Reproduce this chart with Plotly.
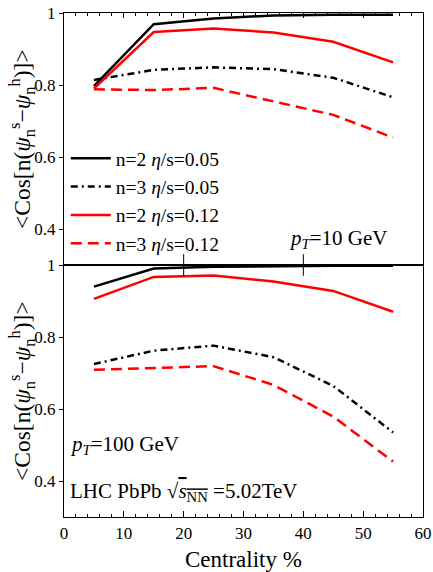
import plotly.graph_objects as go

centrality = [5, 15, 25, 35, 45, 55]

# top panel: pT = 10 GeV
top_n2_005 = [0.797, 0.969, 0.985, 0.993, 0.995, 0.995]
top_n3_005 = [0.814, 0.842, 0.849, 0.844, 0.820, 0.766]
top_n2_012 = [0.790, 0.947, 0.957, 0.946, 0.920, 0.863]
top_n3_012 = [0.788, 0.786, 0.792, 0.754, 0.717, 0.654]

# bottom panel: pT = 100 GeV
bot_n2_005 = [0.940, 0.990, 0.995, 0.997, 0.998, 0.998]
bot_n3_005 = [0.725, 0.762, 0.776, 0.744, 0.664, 0.535]
bot_n2_012 = [0.906, 0.967, 0.971, 0.954, 0.928, 0.870]
bot_n3_012 = [0.709, 0.714, 0.719, 0.667, 0.579, 0.454]

labels = ["n=2 <i>η</i>/s=0.05", "n=3 <i>η</i>/s=0.05",
          "n=2 <i>η</i>/s=0.12", "n=3 <i>η</i>/s=0.12"]
colors = ["black", "black", "#ff0000", "#ff0000"]
dashes = ["solid", "7px,4px,2px,4px", "solid", "11px,6px"]

FONT = "Liberation Serif"

fig = go.Figure()
top_series = [top_n2_005, top_n3_005, top_n2_012, top_n3_012]
bot_series = [bot_n2_005, bot_n3_005, bot_n2_012, bot_n3_012]

for i, ys in enumerate(top_series):
    fig.add_trace(go.Scatter(x=centrality, y=ys, mode="lines", name=labels[i],
                             line=dict(color=colors[i], width=2.5, dash=dashes[i]),
                             xaxis="x2", yaxis="y2", showlegend=True))
for i, ys in enumerate(bot_series):
    fig.add_trace(go.Scatter(x=centrality, y=ys, mode="lines", name=labels[i],
                             line=dict(color=colors[i], width=2.5, dash=dashes[i]),
                             xaxis="x", yaxis="y", showlegend=False))

yticks = [0.4, 0.6, 0.8, 1.0]
yticktext = ["0.4", "0.6", "0.8", "1"]
yr = [0.3, 1.0]

common_y = dict(range=yr, tickvals=yticks, ticktext=yticktext, ticks="outside",
                ticklen=4, tickwidth=1, tickcolor="black", showline=True,
                linecolor="black", linewidth=1.3, mirror=True, showgrid=False,
                zeroline=False, automargin=False,
                tickfont=dict(family=FONT, size=17, color="black"))
right_y = dict(range=yr, side="right", ticks="inside", dtick=0.1, tick0=0,
               ticklen=4, tickcolor="black", showticklabels=False, showgrid=False,
               zeroline=False, showline=False, automargin=False,
               minor=dict(dtick=0.02, ticks="inside", ticklen=2.5, tickcolor="black"))

fig.update_layout(
    width=433, height=572,
    margin=dict(l=64, r=10, t=13, b=55, autoexpand=False),
    paper_bgcolor="white", plot_bgcolor="white",
    font=dict(family=FONT, color="black"),
    xaxis=dict(domain=[0, 1], anchor="y", range=[0, 60], dtick=10, tick0=0,
               ticks="inside", ticklen=6, tickcolor="black", showline=True,
               linecolor="black", linewidth=1.3, mirror=True, showgrid=False,
               zeroline=False, automargin=False,
               tickfont=dict(family=FONT, size=17, color="black"),
               minor=dict(dtick=2, ticks="inside", ticklen=3, tickcolor="black")),
    xaxis2=dict(domain=[0, 1], anchor="y2", matches="x", side="top", range=[0, 60],
                dtick=10, tick0=0, ticks="inside", ticklen=5, tickcolor="black",
                showticklabels=False, showline=True, linecolor="black",
                linewidth=1.3, mirror=True, showgrid=False, zeroline=False,
                automargin=False,
                minor=dict(dtick=2, ticks="inside", ticklen=3, tickcolor="black")),
    yaxis=dict(domain=[0, 0.5], anchor="x", **common_y),
    yaxis2=dict(domain=[0.5, 1], anchor="x2", **common_y),
    yaxis3=dict(overlaying="y", anchor="x", **right_y),
    yaxis4=dict(overlaying="y2", anchor="x2", **right_y),
    legend=dict(x=0.005, y=0.75, xanchor="left", yanchor="top",
                bgcolor="rgba(0,0,0,0)", font=dict(family=FONT, size=19.5, color="black"),
                tracegroupgap=0, itemwidth=40),
    showlegend=True,
)

# long ticks crossing the panel boundary
for xv in [20, 40]:
    fig.add_shape(type="line", xref="x", yref="y", x0=xv, x1=xv, y0=0.97, y1=1.0,
                  line=dict(color="black", width=1))
    fig.add_shape(type="line", xref="x2", yref="y2", x0=xv, x1=xv, y0=0.3, y1=0.33,
                  line=dict(color="black", width=1))

ylab = "&lt;Cos[n(<i>ψ</i><sub>n</sub><sup>s</sup>−<i>ψ</i><sub>n</sub><sup>h</sup>)]&gt;"
fig.add_annotation(text=ylab, xref="paper", yref="paper", x=-0.117, y=0.75,
                   xanchor="center", yanchor="middle",
                   textangle=-90, showarrow=False, font=dict(size=23.5))
fig.add_annotation(text=ylab, xref="paper", yref="paper", x=-0.117, y=0.25,
                   xanchor="center", yanchor="middle",
                   textangle=-90, showarrow=False, font=dict(size=23.5))
fig.add_annotation(text="Centrality %", xref="paper", yref="paper", x=0.5, y=-0.085,
                   xanchor="center", yanchor="middle", showarrow=False, font=dict(size=23))
fig.add_annotation(text="<i>p</i><sub><i>T</i></sub>=10 GeV", xref="x2", yref="y2",
                   x=37.3, y=0.372, xanchor="left", yanchor="middle",
                   showarrow=False, font=dict(size=21))
fig.add_annotation(text="<i>p</i><sub><i>T</i></sub>=100 GeV", xref="x", yref="y",
                   x=0.6, y=0.5, xanchor="left", yanchor="middle",
                   showarrow=False, font=dict(size=21))
fig.add_annotation(text="LHC PbPb √<span style='text-decoration:overline'><i>s</i><sub>NN</sub></span> =5.02TeV",
                   xref="x", yref="y", x=0.6, y=0.37, xanchor="left", yanchor="middle",
                   showarrow=False, font=dict(size=21))

fig.write_html("out.html", config={"displayModeBar": False},
               post_script="document.body.style.margin='0px';")
